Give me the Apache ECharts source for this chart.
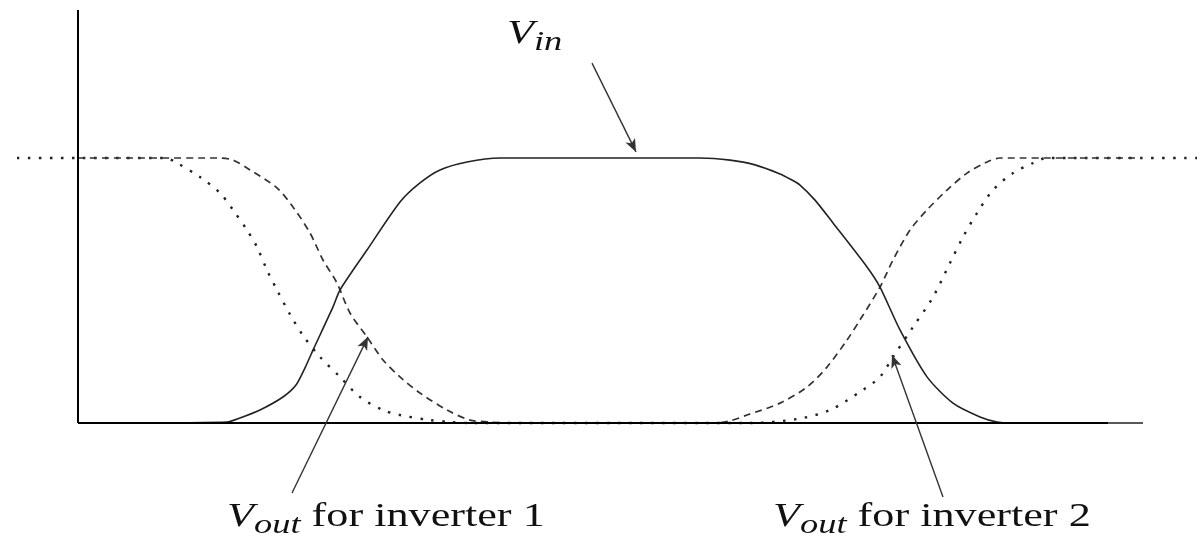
<!DOCTYPE html>
<html>
    <head>
        <title>Inverter chain waveforms</title>
        <meta charset="UTF-8">
        <script src="https://cdn.jsdelivr.net/npm/echarts@6/dist/echarts.min.js"></script>
    </head>
    <body style="margin:0;background-color:#fff;">
        <div id="main" style="width:1202px;height:548px;"></div>
        <script>
            // waveforms: [time, voltage], 1 = high level
            var vin = [
                [0, 0], [14.9, 0.004], [16.2, 0.019], [18.2, 0.049], [20.5, 0.098], [21.8, 0.143],
                [22.7, 0.208], [23.5, 0.275], [25.5, 0.438], [26.2, 0.502], [28.9, 0.653],
                [32.2, 0.834], [34.2, 0.906], [36.2, 0.955], [38.9, 0.985], [42.2, 1], [62.2, 1],
                [65.2, 0.992], [67.7, 0.974], [70.2, 0.94], [71.2, 0.921], [72.2, 0.898],
                [73.7, 0.841], [75.5, 0.755], [78.9, 0.589], [80.2, 0.513], [82.2, 0.351],
                [84.9, 0.174], [87.5, 0.075], [90.2, 0.023], [91.9, 0.004], [93.2, 0], [106.5, 0]
            ];
            var vout1 = [
                [0, 1], [14.2, 1], [15.5, 0.992], [17.2, 0.955], [19.9, 0.887], [21.5, 0.815],
                [23.2, 0.717], [24.5, 0.615], [25.9, 0.528], [27.2, 0.415], [28.9, 0.325],
                [30.5, 0.238], [32.2, 0.174], [34.2, 0.113], [36.9, 0.049], [39.2, 0.011],
                [41.2, 0.004], [42.7, 0], [63.7, 0], [65.2, 0.008], [66.9, 0.03], [70.2, 0.075],
                [72.9, 0.136], [74.9, 0.211], [76.9, 0.313], [78.2, 0.389], [80.2, 0.513],
                [81.5, 0.615], [83.2, 0.728], [84.9, 0.804], [86.9, 0.879], [88.9, 0.943],
                [90.9, 0.985], [92.2, 1], [106.4, 1]
            ];
            var vout2 = [
                [-6.1, 1], [8.7, 1], [9.9, 0.981], [12.2, 0.928], [14.2, 0.868], [15.5, 0.804],
                [16.9, 0.728], [17.9, 0.664], [18.9, 0.577], [19.9, 0.502], [21.2, 0.41],
                [22.5, 0.33], [24.2, 0.249], [26.2, 0.174], [28.2, 0.098], [30.5, 0.049],
                [32.2, 0.03], [35.2, 0.011], [37.2, 0.004], [39.2, 0], [67.2, 0], [71.9, 0.015],
                [75.2, 0.049], [78.5, 0.125], [80.2, 0.174], [81.5, 0.249], [83.5, 0.362],
                [85.5, 0.475], [87.2, 0.604], [88.5, 0.702], [89.9, 0.792], [91.5, 0.879],
                [93.5, 0.943], [95.5, 0.981], [96.9, 1], [111.9, 1]
            ];

            // axis extents and annotation arrows (from -> to), data units
            var xAxisEnd = 103;
            var yAxisTop = 1.558;
            var arrows = [
                [[51.4, 1.358], [55.8, 1.023]],
                [[21.4, -0.264], [29.0, 0.325]],
                [[86.5, -0.279], [81.4, 0.257]]
            ];
            // label anchors: left edge / baseline
            var labels = [
                {at: [42.9, 1.381], sub: 'in', rest: ''},
                {at: [14.9, -0.441], sub: 'out', rest: ' for inverter 1'},
                {at: [69.5, -0.441], sub: 'out', rest: ' for inverter 2'}
            ];

            var ink = '#222';
            var serif = "'Liberation Serif', 'Times New Roman', serif";

            var markLines = [
                [{coord: [0, 0], symbol: 'none'}, {coord: [0, yAxisTop], symbol: 'none'}],
                [{coord: [0, 0], symbol: 'none'}, {coord: [xAxisEnd, 0], symbol: 'none'}]
            ];
            for (var i = 0; i < arrows.length; i++) {
                markLines.push([
                    {coord: arrows[i][0], symbol: 'none', lineStyle: {width: 1.4, color: '#333', type: 'solid'}},
                    {coord: arrows[i][1], symbol: 'arrow', symbolSize: [8, 13]}
                ]);
            }

            var myChart = echarts.init(document.getElementById('main'));
            var option = {
                animation: false,
                grid: {left: 0, right: 0, top: 0, bottom: 0},
                xAxis: {type: 'value', min: -7.8, max: 112.4, show: false},
                yAxis: {type: 'value', min: -0.4717, max: 1.5962, show: false},
                series: [
                    {
                        name: 'Vout inverter 2',
                        type: 'line',
                        data: vout2,
                        showSymbol: false,
                        smooth: 0.3,
                        clip: false,
                        lineStyle: {color: '#222', width: 2.4, type: [2.5, 8.5]}
                    },
                    {
                        name: 'Vout inverter 1',
                        type: 'line',
                        data: vout1,
                        showSymbol: false,
                        smooth: 0.3,
                        clip: false,
                        lineStyle: {color: '#333', width: 1.7, type: [7, 5]}
                    },
                    {
                        name: 'Vin',
                        type: 'line',
                        data: vin,
                        showSymbol: false,
                        smooth: 0.25,
                        clip: false,
                        lineStyle: {color: ink, width: 1.6},
                        markLine: {
                            silent: true,
                            symbol: ['none', 'none'],
                            label: {show: false},
                            emphasis: {disabled: true},
                            lineStyle: {color: '#000', width: 2, type: 'solid'},
                            data: markLines
                        }
                    }
                ]
            };
            myChart.setOption(option);

            // labels: italic V with subscript, rest in roman
            var graphics = labels.map(function (l) {
                var p = myChart.convertToPixel({gridIndex: 0}, l.at);
                return {
                    type: 'text',
                    x: p[0],
                    y: p[1],
                    scaleX: 1.3,
                    silent: true,
                    style: {
                        text: '{v|V}{s|' + l.sub + '}{r|' + l.rest + '}',
                        align: 'left',
                        verticalAlign: 'bottom',
                        fill: '#111',
                        rich: {
                            v: {fontFamily: serif, fontStyle: 'italic', fontSize: 34, lineHeight: 46, fill: '#111'},
                            s: {fontFamily: serif, fontStyle: 'italic', fontSize: 28, verticalAlign: 'bottom', fill: '#111'},
                            r: {fontFamily: serif, fontSize: 34, fill: '#111'}
                        }
                    }
                };
            });
            myChart.setOption({graphic: graphics});
        </script>
    </body>
</html>
